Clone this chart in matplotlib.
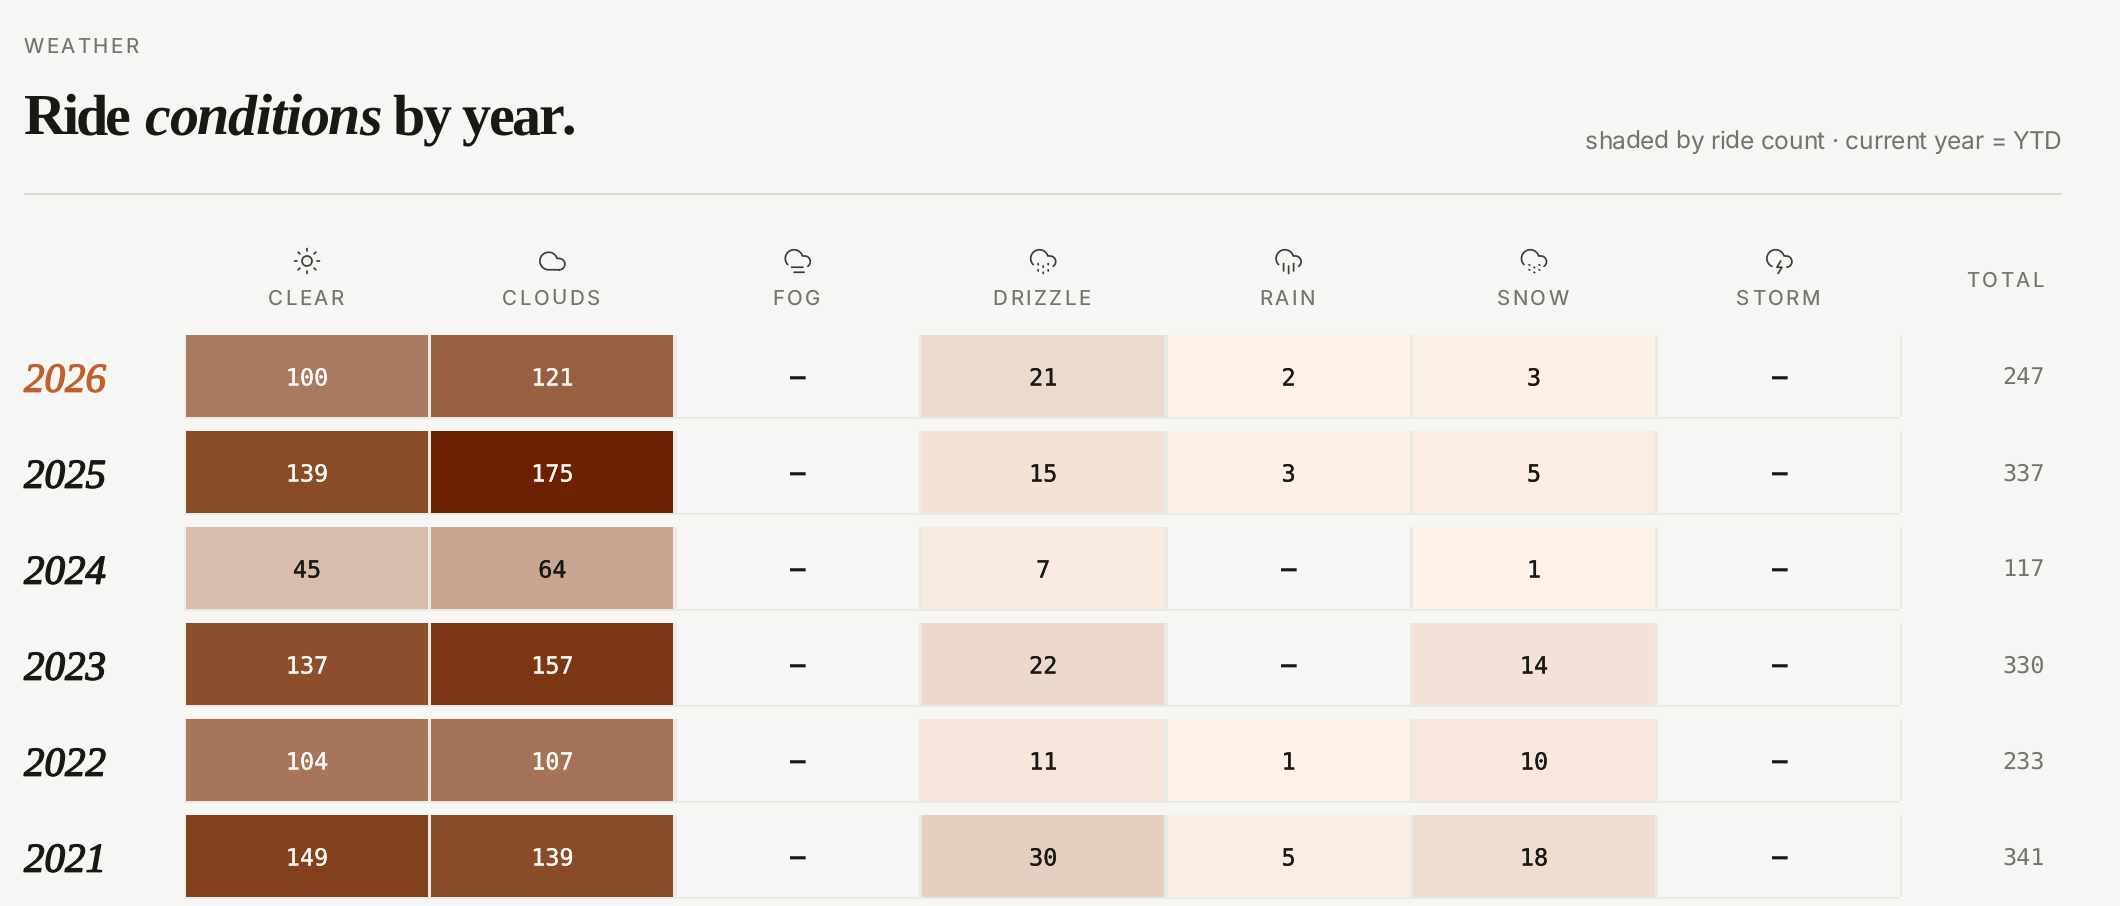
import numpy as np
import matplotlib
matplotlib.use("Agg")
import matplotlib.pyplot as plt
import matplotlib.patheffects as pe
from matplotlib.text import Text
from matplotlib.transforms import IdentityTransform, Bbox, blended_transform_factory
from matplotlib.patches import Rectangle, Circle
from matplotlib.colors import LinearSegmentedColormap, Normalize
from matplotlib.font_manager import get_font, findfont
from matplotlib.ft2font import LoadFlags

plt.rcParams['text.hinting'] = 'no_hinting'

# ---------- data ----------
years = ['2026', '2025', '2024', '2023', '2022', '2021']
conditions = ['CLEAR', 'CLOUDS', 'FOG', 'DRIZZLE', 'RAIN', 'SNOW', 'STORM']
clear = [100, 139, 45, 137, 104, 149]
clouds = [121, 175, 64, 157, 107, 139]
fog = [None, None, None, None, None, None]
drizzle = [21, 15, 7, 22, 11, 30]
rain = [2, 3, None, None, 1, 5]
snow = [3, 5, 1, 14, 10, 18]
storm = [None, None, None, None, None, None]
totals = [247, 337, 117, 330, 233, 341]
columns = [clear, clouds, fog, drizzle, rain, snow, storm]

# ---------- style ----------
W, H, DPI = 2120, 906, 100
BG = '#f6f6f4'
INK = '#1a1815'
MUTED = '#75736e'
RULE = '#d9d8d3'
CELL_LINE = '#ebe9e4'
ACCENT = '#c0602c'
ICON = '#3d3b38'
SERIF = 'Liberation Serif'
SANS = 'Inter'
MONO = 'DejaVu Sans Mono'
PX = 72 / DPI   # points per pixel

cmap = LinearSegmentedColormap.from_list(
    'rides', [(0, '#fff3ea'), (0.571, '#aa7a60'), (0.851, '#82401c'), (1, '#6b2000')])
norm = Normalize(0, 175)


class TrackedText(Text):
    """A single text with CSS-like letter spacing (px), or fitted to a width."""

    def __init__(self, *args, tracking=0.0, fit=None, **kw):
        super().__init__(*args, **kw)
        self.tracking = tracking
        self.fit = fit

    def _advances(self):
        fp = self.get_fontproperties()
        font = get_font(findfont(fp))
        font.set_size(fp.get_size_in_points(), self.figure.dpi)
        return [font.load_char(ord(c), flags=LoadFlags.NO_HINTING).linearHoriAdvance / 65536
                for c in self.get_text()]

    def _layout_px(self):
        adv = self._advances()
        n = len(adv)
        tr = self.tracking
        if self.fit is not None and n > 1:
            tr = (self.fit - sum(adv)) / (n - 1)
        width = sum(adv) + tr * (n - 1)
        x, y = self.get_transform().transform(self.get_unitless_position())
        ha = self.get_ha()
        x0 = x - {'left': 0, 'center': width / 2, 'right': width}[ha]
        return adv, tr, width, x0, y

    def draw(self, renderer):
        adv, tr, width, x0, y = self._layout_px()
        cx = x0
        for c, a in zip(self.get_text(), adv):
            Text(cx, y, c, transform=IdentityTransform(), figure=self.figure,
                 fontproperties=self.get_fontproperties(), color=self.get_color(),
                 ha='left', va='baseline').draw(renderer)
            cx += a + tr

    def get_window_extent(self, renderer=None, dpi=None):
        adv, tr, width, x0, y = self._layout_px()
        size = self.get_fontproperties().get_size_in_points() / PX
        return Bbox.from_extents(x0, y - 0.25 * size, x0 + width, y + 0.75 * size)


fig = plt.figure(figsize=(W / DPI, H / DPI), dpi=DPI, facecolor=BG)

# page layer in pixel units for the heading, rule and column heads
page = fig.add_axes([0, 0, 1, 1], zorder=1)
page.set_xlim(0, W)
page.set_ylim(H, 0)
page.axis('off')


def tracked(x, y, s, size_px, color, family, tracking=0.0, fit=None, ha='left',
            style='normal', weight='normal', transform=None):
    t = TrackedText(x, y, s, tracking=tracking, fit=fit, ha=ha, va='baseline', color=color,
                    family=family, style=style, weight=weight, fontsize=size_px * PX,
                    transform=transform or page.transData)
    t.set_clip_on(False)
    page.add_artist(t)
    return t


# ---------- heading ----------
tracked(24, 53, 'WEATHER', 20.5, MUTED, SANS, fit=114)
tracked(24, 134, 'Ride', 58, INK, SERIF, weight='bold', fit=106)
tracked(144, 134, 'conditions', 58, INK, SERIF, weight='bold', style='italic', fit=238)
tracked(392, 134, 'by year.', 58, INK, SERIF, weight='bold', fit=184)
tracked(2062, 149, 'shaded by ride count \u00b7 current year = YTD', 24.5, MUTED, SANS,
        fit=477, ha='right')
page.add_patch(Rectangle((24, 193), 2038, 2, fc=RULE, ec='none'))

# ---------- table ----------
LEFT, TOP, PITCH_X, PITCH_Y = 186, 335, 245.4, 96
FILL_W, FILL_H = 242 / PITCH_X, 82 / PITCH_Y
table = fig.add_axes([LEFT / W, 0, 7 * PITCH_X / W, (H - TOP) / H], zorder=2)
table.set_xlim(0, 7)
table.set_ylim((H - TOP) / PITCH_Y, 0)
table.axis('off')
rows = np.arange(len(years))

for k, col in enumerate(columns):
    has = [i for i, v in enumerate(col) if v is not None]
    table.bar([k] * len(has), [FILL_H] * len(has), width=FILL_W, bottom=[rows[i] for i in has],
              align='edge', color=[cmap(norm(col[i])) for i in has], linewidth=0)
    for r, v in zip(rows, col):
        if v is None:
            label, color, weight, size = '\u2013', INK, 'bold', 26
        else:
            label, color, weight, size = str(v), '#fffaf5' if v >= 80 else INK, 'normal', 23.5
        t = table.text(k + FILL_W / 2, r + 50.5 / PITCH_Y, label, ha='center', va='baseline',
                       color=color, family=MONO, weight=weight, fontsize=size * PX)
        if v is not None:
            t.set_path_effects([pe.withStroke(linewidth=0.2, foreground=color)])

# thin cell rules (right edge of each cell and line under each row)
for r in rows:
    table.add_patch(Rectangle((-2 / PITCH_X, r + FILL_H), (1716 / PITCH_X), 2 / PITCH_Y,
                              fc=CELL_LINE, ec='none', clip_on=False))
    table.add_patch(Rectangle((-2 / PITCH_X, r), 2 / PITCH_X, FILL_H, fc='#f1efeb', ec='none',
                              clip_on=False))
    for k in range(1, 7):
        table.add_patch(Rectangle((k - 3.4 / PITCH_X, r), 3.4 / PITCH_X, FILL_H, fc=CELL_LINE,
                                  ec='none'))
    table.add_patch(Rectangle((7 - 4 / PITCH_X, r), 2 / PITCH_X, FILL_H, fc=CELL_LINE, ec='none'))

# year labels and totals
row_tf = blended_transform_factory(page.transData, table.transData)
for r, year, total in zip(rows, years, totals):
    current = r == 0
    yt = page.text(24, r + 56.7 / PITCH_Y, year, transform=row_tf, ha='left', va='baseline',
                   family=SERIF, style='italic',
                   color=ACCENT if current else INK, fontsize=41 * PX)
    yt.set_path_effects([pe.withStroke(linewidth=1.0, foreground=ACCENT if current else INK)])
    page.text(2045, r + 49.5 / PITCH_Y, str(total), transform=row_tf, ha='right', va='baseline',
              family=MONO, color=MUTED, fontsize=23.5 * PX)


# ---------- column heads ----------
def arc(p0, p1, r, large, sweep, n=40):
    """SVG endpoint arc to points, in icon units."""
    p0, p1 = np.array(p0, float), np.array(p1, float)
    mid = (p0 + p1) / 2
    d = p1 - p0
    q = np.hypot(*d)
    h = np.sqrt(max(r * r - q * q / 4, 0))
    sign = 1 if large != sweep else -1
    c = mid + sign * h * np.array([-d[1], d[0]]) / q
    a0 = np.arctan2(*(p0 - c)[::-1])
    a1 = np.arctan2(*(p1 - c)[::-1])
    if sweep and a1 < a0:
        a1 += 2 * np.pi
    if not sweep and a1 > a0:
        a1 -= 2 * np.pi
    t = np.linspace(a0, a1, n)
    return np.column_stack([c[0] + r * np.cos(t), c[1] + r * np.sin(t)])


def cloud_outline(start, end):
    return np.vstack([arc(start, (15.71, 8), 7, 1, 1), [(17.5, 8)],
                      arc((17.5, 8), end, 4.5, 0, 1)])


OPEN_CLOUD = cloud_outline((4, 14.899), (20, 16.242))
STORM_CLOUD = cloud_outline((6, 16.326), (18, 16.973))
FULL_CLOUD = np.vstack([[(17.5, 19), (9, 19)], arc((9, 19), (15.71, 10), 7, 1, 1),
                        [(17.5, 10)], arc((17.5, 10), (17.5, 19), 4.5, 1, 1)])
ICONS = {
    'CLEAR': [[(12, 2), (12, 4)], [(12, 20), (12, 22)], [(4.93, 4.93), (6.34, 6.34)],
              [(17.66, 17.66), (19.07, 19.07)], [(2, 12), (4, 12)], [(20, 12), (22, 12)],
              [(6.34, 17.66), (4.93, 19.07)], [(19.07, 4.93), (17.66, 6.34)]],
    'CLOUDS': [FULL_CLOUD],
    'FOG': [OPEN_CLOUD, [(16, 17), (7, 17)], [(17, 21), (9, 21)]],
    'DRIZZLE': [OPEN_CLOUD, [(8, 19), (8, 20)], [(8, 14), (8, 15)], [(16, 19), (16, 20)],
                [(16, 14), (16, 15)], [(12, 21), (12, 22)], [(12, 16), (12, 17)]],
    'RAIN': [OPEN_CLOUD, [(16, 14), (16, 20)], [(8, 14), (8, 20)], [(12, 16), (12, 22)]],
    'SNOW': [OPEN_CLOUD] + [[(x, y), (x + 0.6, y + 0.3)] for x, y in
                            [(8, 15), (8, 19), (12, 17), (12, 21), (16, 15), (16, 19)]],
    'STORM': [STORM_CLOUD, [(13, 12), (10, 17), (14, 17), (11, 22)]],
}
ICON_SCALE = 1.25
for k, name in enumerate(conditions):
    cx = LEFT + PITCH_X * k + 121
    tracked(cx - 1.5, 305, name, 20.5, MUTED, SANS, tracking=2.5, ha='center')
    for seg in ICONS[name]:
        pts = (np.asarray(seg, float) - 12) * ICON_SCALE + (cx, 261)
        page.plot(pts[:, 0], pts[:, 1], color=ICON, lw=1.7 * PX, solid_capstyle='round',
                  solid_joinstyle='round', snap=False)
    if name == 'CLEAR':
        page.add_patch(Circle((cx, 261), 4 * ICON_SCALE, fc='none', ec=ICON, lw=1.7 * PX))
page.set_xlim(0, W)
page.set_ylim(H, 0)
tracked(2044, 287, 'TOTAL', 20.5, MUTED, SANS, tracking=2.5, ha='right')

fig.savefig('out.png', dpi=DPI, facecolor=BG)
